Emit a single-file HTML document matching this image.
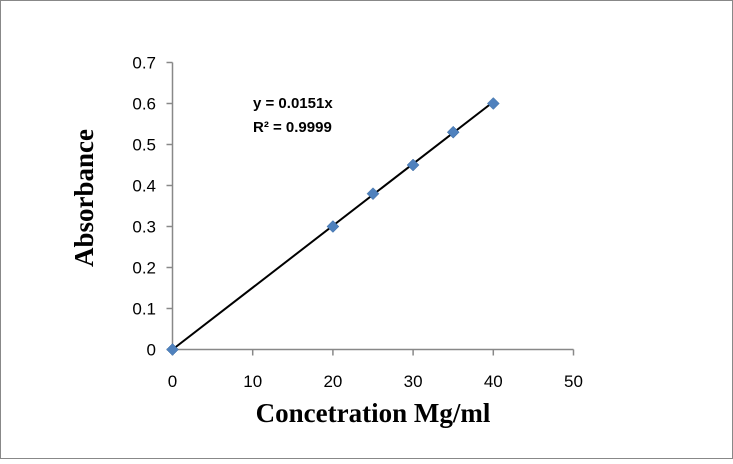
<!DOCTYPE html>
<html><head><meta charset="utf-8"><style>
body{margin:0;background:#fff}
svg text{font-family:"Liberation Sans",sans-serif}
</style></head><body>
<svg width="733" height="459">
<rect x="0.5" y="0.5" width="732" height="458" fill="#fff" stroke="#888"/>
<g id="axes"></g>
<g id="marks"></g>
<text x="253" y="108" font-size="15" font-weight="bold" fill="#000">y = 0.0151x</text>
<text x="253" y="132" font-size="15" font-weight="bold" fill="#000">R² = 0.9999</text>
<text x="373" y="422" font-size="27" font-weight="bold" text-anchor="middle" style="font-family:'Liberation Serif',serif">Concetration Mg/ml</text>
<text transform="translate(93,198) rotate(-90)" font-size="27" font-weight="bold" text-anchor="middle" style="font-family:'Liberation Serif',serif">Absorbance</text>
</svg>
<script>
const xValues=[0,20,25,30,35,40];
const yValues=[0,0.3,0.38,0.45,0.53,0.6];
const xTicks=[0,10,20,30,40,50];
const yTicks=[0,0.1,0.2,0.3,0.4,0.5,0.6,0.7];
const slope=0.0151;
const X=v=>172.5+v*8.02, Y=v=>349.5-v*410;
const NS="http://www.w3.org/2000/svg";
const ax=document.getElementById('axes'), mk=document.getElementById('marks');
function el(t,a,p){const e=document.createElementNS(NS,t);for(const k in a)e.setAttribute(k,a[k]);p.appendChild(e);return e;}
let l=el('line',{x1:X(0),y1:Y(0),x2:X(50),y2:Y(0),stroke:'#888','stroke-width':1.5},ax);


l=el('line',{x1:X(0),y1:Y(0),x2:X(0),y2:Y(0.7),stroke:'#888','stroke-width':1.5},ax);


xTicks.forEach(v=>{
 const t=el('line',{x1:X(v),y1:Y(0),x2:X(v),y2:Y(0)+6,stroke:'#888','stroke-width':1.5},ax);
 
 
 const tx=el('text',{x:X(v),y:387,'font-size':17,'text-anchor':'middle',fill:'#000'},ax);
 tx.textContent=v;
 
 
});
yTicks.forEach(v=>{
 const t=el('line',{x1:X(0)-6,y1:Y(v),x2:X(0),y2:Y(v),stroke:'#888','stroke-width':1.5},ax);
 
 
 const tx=el('text',{x:156,y:Y(v)+6,'font-size':17,'text-anchor':'end',fill:'#000'},ax);
 tx.textContent=v;
 
 
});
const xmax=Math.max(...xValues);
const tl=el('line',{x1:X(0),y1:Y(0),x2:X(xmax),y2:Y(slope*xmax),stroke:'#000','stroke-width':2},mk);


xValues.forEach((v,i)=>{
 const cx=X(v),cy=Y(yValues[i]);
 const p=el('polygon',{points:`${cx},${cy-6} ${cx+6},${cy} ${cx},${cy+6} ${cx-6},${cy}`,fill:'#4f81bd',stroke:'#3a6aa0','stroke-width':0.5},mk);
 
 
});
</script>
</body></html>
